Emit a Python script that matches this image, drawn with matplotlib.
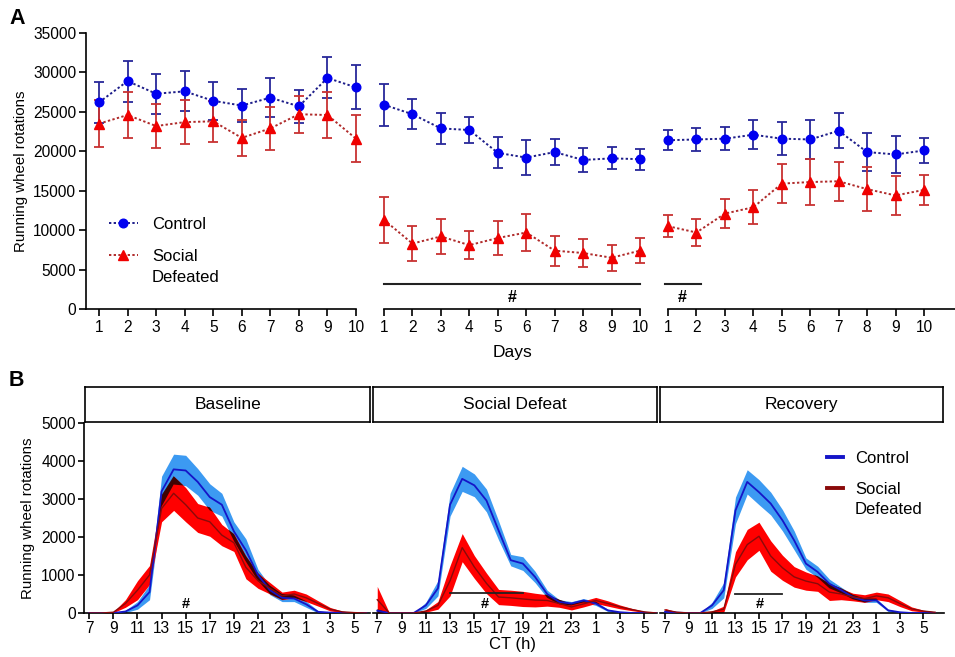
import matplotlib
matplotlib.use("Agg")
import matplotlib.pyplot as plt
import numpy as np

plt.rcParams['font.family'] = ['Liberation Sans', 'DejaVu Sans']

# ---------------- Panel A data ----------------
days = [1, 2, 3, 4, 5, 6, 7, 8, 9, 10]
# Baseline
base_ctrl = [26200, 28900, 27300, 27600, 26400, 25800, 26800, 25700, 29300, 28100]
base_ctrl_err = [2600, 2600, 2550, 2550, 2400, 2100, 2500, 2100, 2600, 2800]
base_sd = [23500, 24600, 23200, 23700, 23800, 21700, 22900, 24700, 24600, 21600]
base_sd_err = [3000, 2900, 2800, 2800, 2600, 2300, 2700, 2350, 2900, 3000]
# Social defeat
def_ctrl = [25900, 24700, 22900, 22700, 19800, 19200, 19900, 18900, 19100, 19000]
def_ctrl_err = [2650, 1900, 2000, 1600, 1950, 2200, 1650, 1500, 1400, 1350]
def_sd = [11300, 8300, 9200, 8100, 9000, 9700, 7400, 7100, 6500, 7400]
def_sd_err = [2900, 2200, 2250, 1800, 2200, 2400, 1900, 1750, 1650, 1550]
# Recovery
rec_ctrl = [21400, 21500, 21600, 22100, 21600, 21500, 22600, 19900, 19600, 20100]
rec_ctrl_err = [1300, 1500, 1500, 1850, 2100, 2500, 2200, 2450, 2300, 1600]
rec_sd = [10500, 9700, 12100, 12900, 15900, 16100, 16200, 15200, 14400, 15100]
rec_sd_err = [1400, 1700, 1800, 2150, 2450, 2900, 2450, 2800, 2500, 1850]

a_yticks = [0, 5000, 10000, 15000, 20000, 25000, 30000, 35000]
sig_def_x = [1, 10]
sig_rec_x = [0.9, 2.15]
sig_y = 3200

# ---------------- Panel B data ----------------
hours = list(range(7, 31))
hour_ticks = [7, 9, 11, 13, 15, 17, 19, 21, 23, 25, 27, 29]
hour_labels = ['7', '9', '11', '13', '15', '17', '19', '21', '23', '1', '3', '5']

bl_ctrl = [0, 0, 0, 40, 200, 550, 3200, 3780, 3750, 3450, 3050, 2850, 2150, 1650, 1000, 600, 400, 380, 230, 30, 10, 0, 0, 0]
bl_ctrl_sem = [0, 0, 0, 30, 100, 200, 400, 400, 400, 350, 350, 300, 250, 300, 150, 120, 100, 80, 80, 30, 10, 0, 0, 0]
bl_sd = [0, 0, 20, 250, 600, 1000, 2750, 3150, 2850, 2500, 2400, 2050, 1850, 1200, 850, 650, 450, 500, 400, 250, 100, 30, 10, 0]
bl_sd_sem = [0, 0, 10, 100, 250, 250, 350, 450, 450, 380, 380, 280, 230, 300, 200, 150, 100, 100, 100, 70, 45, 20, 5, 0]

sd_ctrl = [60, 0, 0, 0, 200, 650, 2850, 3530, 3360, 2960, 2170, 1390, 1300, 950, 500, 290, 250, 330, 250, 70, 20, 0, 0, 0]
sd_ctrl_sem = [40, 0, 0, 0, 80, 200, 300, 330, 300, 300, 250, 150, 180, 150, 100, 60, 50, 50, 50, 30, 10, 0, 0, 0]
sd_sd = [350, 0, 0, 0, 50, 200, 850, 1720, 1210, 780, 420, 400, 370, 340, 330, 250, 160, 240, 330, 250, 160, 90, 30, 0]
sd_sd_sem = [350, 0, 0, 0, 30, 100, 400, 370, 300, 270, 200, 200, 200, 180, 150, 100, 80, 80, 80, 70, 50, 30, 15, 0]

rc_ctrl = [30, 10, 0, 0, 200, 600, 2700, 3450, 3180, 2880, 2440, 1910, 1300, 1080, 770, 600, 420, 330, 330, 70, 20, 0, 0, 0]
rc_ctrl_sem = [20, 10, 0, 0, 80, 200, 350, 320, 330, 300, 280, 250, 150, 150, 120, 80, 60, 50, 50, 30, 10, 0, 0, 0]
rc_sd = [80, 20, 0, 0, 30, 100, 1280, 1800, 2020, 1500, 1190, 950, 840, 770, 550, 500, 420, 380, 450, 400, 250, 110, 50, 20]
rc_sd_sem = [40, 10, 0, 0, 20, 80, 330, 400, 370, 400, 330, 270, 240, 200, 220, 150, 100, 100, 100, 100, 80, 50, 25, 10]

b_yticks = [0, 1000, 2000, 3000, 4000, 5000]
phases = ['Baseline', 'Social Defeat', 'Recovery']

# ---------------- figure ----------------
W, H = 955, 657
fig = plt.figure(figsize=(W / 100, H / 100), dpi=100)


def px_axes(left, top, right, bottom):
    return fig.add_axes([left / W, 1 - bottom / H, (right - left) / W, (bottom - top) / H])


C_MARK = '#0000f0'
C_CBAR = '#28289a'
C_CLINE = '#1d1d8a'
S_MARK = '#f00000'
S_BAR = '#c83232'
S_LINE = '#b02a2a'
TICK_FS = 11.2

axA = [px_axes(86, 33, 356, 309), px_axes(384, 33, 640, 309), px_axes(668, 33, 955, 309)]
xlimsA = [(0.545, 10), (1, 10), (1, 11.09)]
dataA = [(base_ctrl, base_ctrl_err, base_sd, base_sd_err),
         (def_ctrl, def_ctrl_err, def_sd, def_sd_err),
         (rec_ctrl, rec_ctrl_err, rec_sd, rec_sd_err)]

for i, ax in enumerate(axA):
    cm, ce, sm, se = dataA[i]
    ax.errorbar(days, cm, yerr=ce, fmt='none', ecolor=C_CBAR, elinewidth=1.3,
                capsize=3.6, capthick=1.3, clip_on=False, zorder=3)
    ax.errorbar(days, sm, yerr=se, fmt='none', ecolor=S_BAR, elinewidth=1.3,
                capsize=3.6, capthick=1.3, clip_on=False, zorder=3)
    ax.plot(days, cm, linestyle=(0, (1.2, 1.2)), color=C_CLINE, lw=1.4, clip_on=False, zorder=4)
    ax.plot(days, sm, linestyle=(0, (1.2, 1.2)), color=S_LINE, lw=1.4, clip_on=False, zorder=4)
    ax.plot(days, cm, linestyle='none', marker='o', ms=6.2, color=C_MARK, clip_on=False, zorder=5)
    ax.plot(days, sm, linestyle='none', marker='^', ms=6.5, color=S_MARK, clip_on=False, zorder=5)
    ax.set_xlim(*xlimsA[i])
    ax.set_ylim(0, 35000)
    ax.set_xticks(days)
    ax.set_xticklabels([str(d) for d in days])
    for s in ['top', 'right']:
        ax.spines[s].set_visible(False)
    ax.spines['bottom'].set_linewidth(1.2)
    ax.spines['left'].set_linewidth(1.2)
    ax.tick_params(axis='x', length=5, width=1.2, labelsize=TICK_FS, pad=3)
    ax.tick_params(axis='y', length=5, width=1.2, labelsize=TICK_FS, pad=2)
    ax.patch.set_alpha(0)
    if i == 0:
        ax.set_yticks(a_yticks)
        ax.set_yticklabels([str(v) for v in a_yticks])
        ax.set_ylabel('Running wheel rotations', fontsize=10.8, labelpad=4)
    else:
        ax.spines['left'].set_visible(False)
        ax.set_yticks([])

# legend panel A
lc, = axA[0].plot([], [], linestyle=(0, (1.2, 1.2)), color=C_CLINE, lw=1.4, marker='o', ms=6.2,
                  markerfacecolor=C_MARK, markeredgecolor=C_MARK)
ls, = axA[0].plot([], [], linestyle=(0, (1.2, 1.2)), color=S_LINE, lw=1.4, marker='^', ms=6.5,
                  markerfacecolor=S_MARK, markeredgecolor=S_MARK)
legA = axA[0].legend([lc, ls], ['Control', 'Social'], loc='upper left',
                     bbox_to_anchor=((102 - 86) / 270, (309 - 210) / 276), frameon=False,
                     fontsize=12, handlelength=1.75, handletextpad=0.85, labelspacing=1.05,
                     borderaxespad=0)

# significance A
axA[1].plot(sig_def_x, [sig_y, sig_y], color='#222222', lw=1.5, clip_on=False)
axA[1].text(np.mean(sig_def_x), 1400, '#', ha='center', va='center', fontsize=11.5, fontweight='bold')
axA[2].plot(sig_rec_x, [sig_y, sig_y], color='#222222', lw=1.5, clip_on=False)
axA[2].text(1.5, 1400, '#', ha='center', va='center', fontsize=11.5, fontweight='bold')

fig.text(512 / W, 1 - 353 / H, 'Days', ha='center', va='center', fontsize=12.5)
fig.text(9 / W, 1 - 18 / H, 'A', ha='left', va='center', fontsize=15.5, fontweight='bold')
fig.text(9 / W, 1 - 380 / H, 'B', ha='left', va='center', fontsize=15.5, fontweight='bold')

# ---------------- Panel B ----------------
axB = [px_axes(84, 423, 370, 613), px_axes(373, 423, 657, 613), px_axes(660, 423, 944, 613)]
xlimsB = [(6.56, 30.30), (6.65, 30.05), (6.57, 30.76)]
stripB = [(85, 370), (373, 657), (660, 943)]
dataB = [(bl_ctrl, bl_ctrl_sem, bl_sd, bl_sd_sem),
         (sd_ctrl, sd_ctrl_sem, sd_sd, sd_sd_sem),
         (rc_ctrl, rc_ctrl_sem, rc_sd, rc_sd_sem)]

B_CFILL = '#3c9af2'
B_CLINE = '#1515c8'
B_SFILL = '#ff0000'
B_SLINE = '#8a0a0a'
B_OVER = '#2a0303'

x = np.array(hours, dtype=float)
for i, ax in enumerate(axB):
    cm, cs, sm, ss = [np.array(a, dtype=float) for a in dataB[i]]
    clo, chi = np.maximum(cm - cs, 0), cm + cs
    slo, shi = np.maximum(sm - ss, 0), sm + ss
    ax.fill_between(x, clo, chi, color=B_CFILL, lw=0, zorder=1)
    ax.fill_between(x, slo, shi, color=B_SFILL, lw=0, zorder=2)
    olo = np.maximum(clo, slo)
    ohi = np.minimum(chi, shi)
    ax.fill_between(x, olo, ohi, where=ohi > olo, interpolate=True, color=B_OVER, lw=0,
                    alpha=0.9, zorder=3)
    ax.plot(x, cm, color=B_CLINE, lw=1.3, zorder=4)
    ax.plot(x, sm, color=B_SLINE, lw=1.0, zorder=4)
    ax.set_xlim(*xlimsB[i])
    ax.set_ylim(0, 5000)
    ax.set_xticks(hour_ticks)
    ax.set_xticklabels(hour_labels)
    for s in ['top', 'right']:
        ax.spines[s].set_visible(False)
    ax.spines['bottom'].set_linewidth(1.2)
    ax.spines['left'].set_linewidth(1.2)
    ax.tick_params(axis='x', length=4, width=1.2, labelsize=TICK_FS, pad=2)
    ax.tick_params(axis='y', length=4, width=1.2, labelsize=TICK_FS, pad=2)
    ax.patch.set_alpha(0)
    if i == 0:
        ax.set_yticks(b_yticks)
        ax.set_yticklabels([str(v) for v in b_yticks])
    else:
        ax.spines['left'].set_visible(False)
        ax.set_yticks([])
    # strip
    l, r = stripB[i]
    sax = px_axes(l, 387, r, 422)
    sax.set_xticks([])
    sax.set_yticks([])
    for s in sax.spines.values():
        s.set_linewidth(1.2)
    sax.text(0.5, 0.5, phases[i], ha='center', va='center', fontsize=12.5, transform=sax.transAxes)

# significance B
axB[0].text(15, 250, '#', ha='center', va='center', fontsize=10.5, fontweight='bold')
axB[1].plot([13, 19], [530, 530], color='#222222', lw=1.3, zorder=5)
axB[1].text(15.9, 230, '#', ha='center', va='center', fontsize=10.5, fontweight='bold')
axB[2].plot([13, 17], [490, 490], color='#222222', lw=1.3, zorder=5)
axB[2].text(15.1, 230, '#', ha='center', va='center', fontsize=10.5, fontweight='bold')

# legend B
hb1, = axB[2].plot([], [], color=B_CLINE, lw=2.8)
hb2, = axB[2].plot([], [], color=B_SLINE, lw=2.8)
legB = axB[2].legend([hb1, hb2], ['Control', 'Social'], loc='upper left',
                     bbox_to_anchor=((820 - 660) / 284, (613 - 444) / 190), frameon=False,
                     fontsize=12, handlelength=1.0, handletextpad=0.7, labelspacing=0.95,
                     borderaxespad=0)

fig.text(28 / W, 1 - 518 / H, 'Running wheel rotations', rotation=90, ha='center', va='center', fontsize=10.8)
fig.text(512 / W, 1 - 645 / H, 'CT (h)', ha='center', va='center', fontsize=12)

# second line of the two-line legend labels, placed under "Social"
fig.canvas.draw()
renderer = fig.canvas.get_renderer()
for leg in (legA, legB):
    bb = leg.get_texts()[1].get_window_extent(renderer)
    fig.text(bb.x0 / W, bb.y0 / H - 21 / H, 'Defeated', ha='left', va='bottom', fontsize=12)

fig.savefig('out.png', dpi=100)
